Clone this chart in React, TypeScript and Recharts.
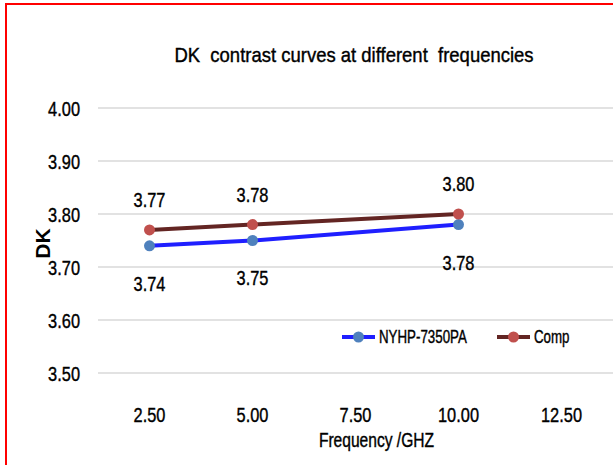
import React from 'react';
import { LineChart, Line, XAxis, YAxis, CartesianGrid, Legend, LabelList } from 'recharts';

const frequencies = [2.5, 5, 10];
const nyhpValues = [3.74, 3.75, 3.78];
const compValues = [3.77, 3.78, 3.8];
const xTicks = [2.5, 5, 7.5, 10, 12.5];
const yTicks = [3.5, 3.6, 3.7, 3.8, 3.9, 4.0];
const legendOrder = ['NYHP-7350PA', 'Comp'];

const data = frequencies.map((f, i) => ({ freq: f, nyhp: nyhpValues[i], comp: compValues[i] }));

// Calibri-ish look: Arial metrics squeezed horizontally, slightly heavier
const FONT = '"Liberation Sans", Arial, sans-serif';
const SQUEEZE = 0.78;
const heavy = { stroke: '#000', strokeWidth: 0.4 };

const XTick = (props: any) => {
  const { x, y, payload } = props;
  return (
    <text transform={`translate(${x},${y}) scale(${SQUEEZE},1)`} textAnchor="middle" dy="0.71em" fontSize={21} fill="#000" fontFamily={FONT} {...heavy}>
      {Number(payload.value).toFixed(2)}
    </text>
  );
};

const YTick = (props: any) => {
  const { x, y, payload } = props;
  return (
    <text transform={`translate(${x},${y}) scale(${SQUEEZE},1)`} textAnchor="end" dy="0.36em" fontSize={21} fill="#000" fontFamily={FONT} {...heavy}>
      {Number(payload.value).toFixed(2)}
    </text>
  );
};

const makePointLabel = (above: boolean, offset: number) => (props: any) => {
  const { x, y, value } = props;
  const ty = above ? y - offset : y + offset;
  return (
    <text transform={`translate(${x},${ty}) scale(${SQUEEZE},1)`} textAnchor="middle" dy={above ? 0 : '0.71em'} fontSize={21} fill="#000" fontFamily={FONT} {...heavy}>
      {Number(value).toFixed(2)}
    </text>
  );
};

const XLabel = (props: any) => {
  const { viewBox } = props;
  const cx = viewBox.x + viewBox.width / 2 + 21;
  const by = viewBox.y + viewBox.height - 18;
  return (
    <text transform={`translate(${cx},${by}) scale(${SQUEEZE},1)`} textAnchor="middle" fontSize={20} fill="#000" fontFamily={FONT} {...heavy}>
      Frequency  /GHZ
    </text>
  );
};

const YLabel = (props: any) => {
  const { viewBox } = props;
  const cy = viewBox.y + viewBox.height / 2 + 3;
  return (
    <text transform={`translate(42,${cy}) rotate(-90)`} textAnchor="middle" dy="0.36em" fontSize={21} fontWeight="bold" fill="#000" fontFamily={FONT}>
      DK
    </text>
  );
};

const renderLegend = (props: any) => {
  const items = [...props.payload].sort((a: any, b: any) => legendOrder.indexOf(a.value) - legendOrder.indexOf(b.value));
  const starts = [0, 155];
  return (
    <svg width={240} height={22}>
      {items.map((entry: any, i: number) => (
        <g key={i} transform={`translate(${starts[i]},0)`}>
          <line x1={0} y1={11} x2={33} y2={11} stroke={entry.payload.stroke} strokeWidth={4} />
          <circle cx={16.5} cy={11} r={5.5} fill={entry.payload.dot.fill} />
          <text transform={`translate(37,11) scale(0.74,1)`} dy="0.36em" fontSize={18} fill="#000" fontFamily={FONT} {...heavy}>
            {entry.value}
          </text>
        </g>
      ))}
    </svg>
  );
};

const App: React.FC = () => {
  return (
    <div style={{ position: 'absolute', top: 0, left: 0, width: 613, height: 465, overflow: 'hidden', background: '#fff', fontFamily: FONT }}>
      <div style={{ position: 'absolute', top: 3, left: 5, width: 700, height: 600, borderTop: '2px solid #ff0000', borderLeft: '2px solid #ff0000', pointerEvents: 'none' }} />
      <div style={{ position: 'absolute', top: 43, left: 95, width: 518, textAlign: 'center', fontSize: 21, lineHeight: '24px', color: '#000', transform: 'scaleX(0.88)', whiteSpace: 'pre', WebkitTextStroke: '0.4px #000' }}>
        {'DK  contrast curves at different  frequencies'}
      </div>
      <LineChart width={613} height={465} data={data} margin={{ top: 108, right: 0, left: 0, bottom: 0 }} style={{ position: 'absolute', top: 0, left: 0 }}>
        <CartesianGrid vertical={false} stroke="#d9d9d9" strokeWidth={1.5} />
        <XAxis
          dataKey="freq"
          type="number"
          domain={[1.25, 13.75]}
          ticks={xTicks}
          allowDataOverflow
          height={92}
          axisLine={false}
          tickLine={false}
          tickSize={0}
          tickMargin={34}
          tick={<XTick />}
          label={<XLabel />}
        />
        <YAxis
          type="number"
          domain={[3.5, 4.0]}
          ticks={yTicks}
          width={98}
          axisLine={false}
          tickLine={false}
          tickSize={0}
          tickMargin={18}
          tick={<YTick />}
          label={<YLabel />}
        />
        <Legend
          content={renderLegend}
          layout="horizontal"
          verticalAlign="middle"
          align="center"
          wrapperStyle={{ position: 'absolute', left: 342, top: 326, width: 240, height: 22 }}
        />
        <Line
          type="linear"
          dataKey="nyhp"
          name="NYHP-7350PA"
          stroke="#1f1fff"
          strokeWidth={4}
          dot={{ r: 5.5, fill: '#4f81bd', stroke: 'none' }}
          isAnimationActive={false}
        >
          <LabelList dataKey="nyhp" content={makePointLabel(false, 30)} />
        </Line>
        <Line
          type="linear"
          dataKey="comp"
          name="Comp"
          stroke="#632523"
          strokeWidth={4}
          dot={{ r: 5.5, fill: '#c0504d', stroke: 'none' }}
          isAnimationActive={false}
        >
          <LabelList dataKey="comp" content={makePointLabel(true, 23)} />
        </Line>
      </LineChart>
    </div>
  );
};

export default App;
